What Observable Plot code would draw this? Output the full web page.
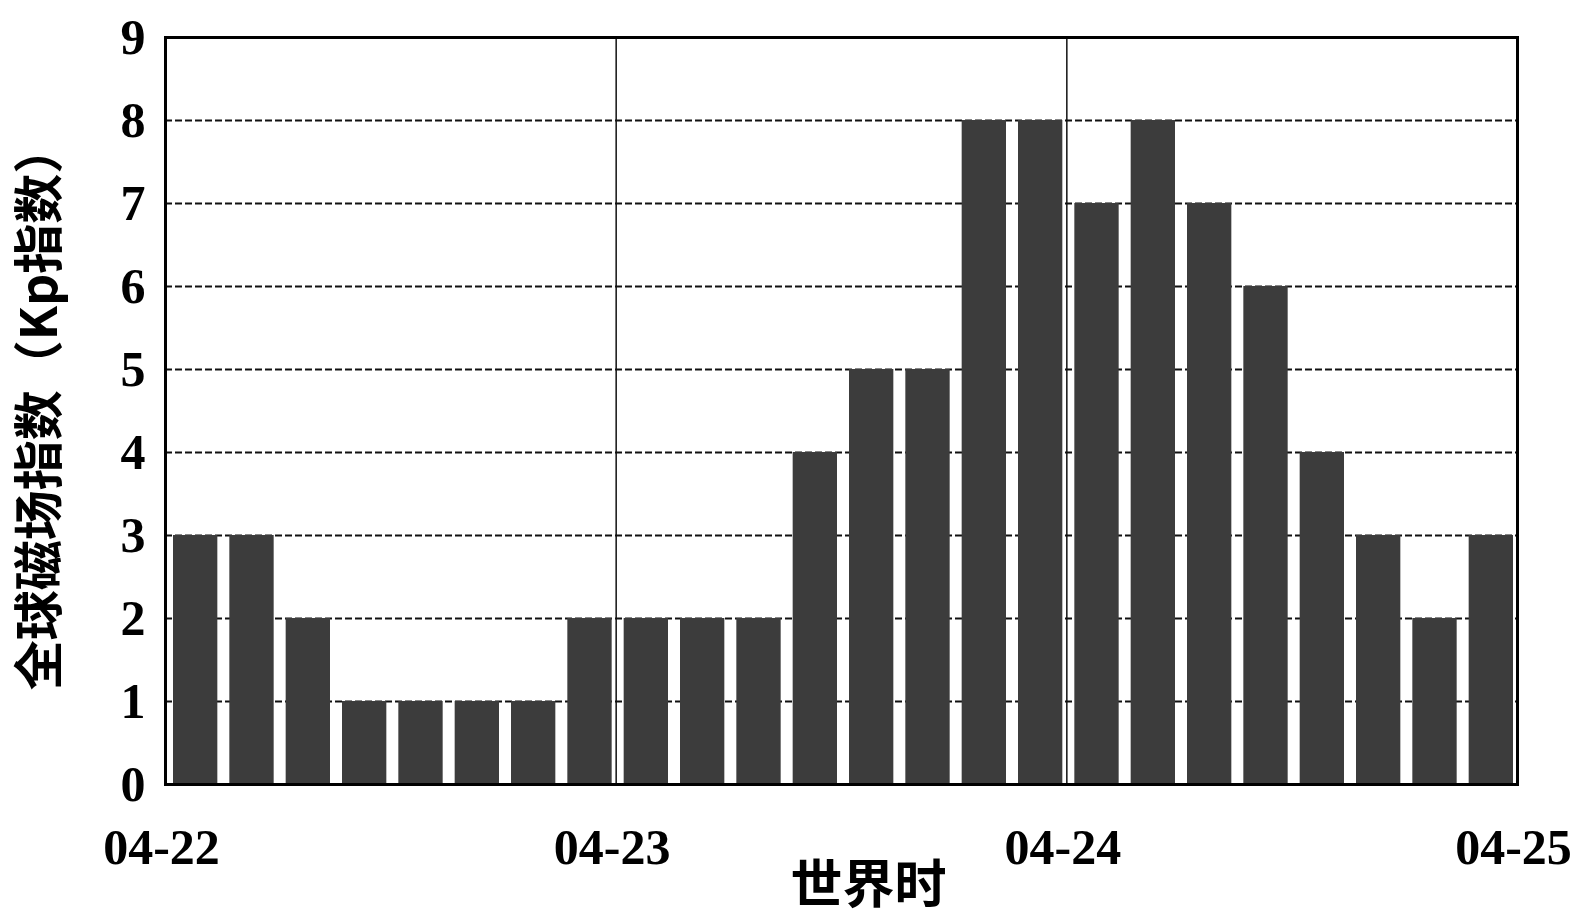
<!DOCTYPE html>
<html>
<head>
<meta charset="utf-8">
<script src="https://cdn.jsdelivr.net/npm/d3@7"></script>
<script src="https://cdn.jsdelivr.net/npm/@observablehq/plot@0.6"></script>
<style>
  html, body { margin: 0; padding: 0; background: #fff; }
</style>
</head>
<body>
<div id="chart"></div>
<script>
// Kp index per 3-hour interval, 04-22 00:00 UT to 04-25 00:00 UT
const kp = [3, 3, 2, 1, 1, 1, 1, 2,
            2, 2, 2, 4, 5, 5, 8, 8,
            7, 8, 7, 6, 4, 3, 2, 3];
const days = ["04-22", "04-23", "04-24", "04-25"];
const dayHours = [0, 24, 48, 72];
const yTicks = [0, 1, 2, 3, 4, 5, 6, 7, 8, 9];
const gridValues = [1, 2, 3, 4, 5, 6, 7, 8];
const dayLines = [24, 48];
const yLabel = "全球磁场指数（Kp指数）";
const xLabel = "世界时";

const data = kp.map((v, i) => ({start: i * 3, end: i * 3 + 3, kp: v}));

const cjk = "'Noto Sans CJK SC', 'Noto Sans', sans-serif";

const chart = Plot.plot({
  width: 1575,
  height: 922,
  marginLeft: 165,
  marginRight: 58,
  marginTop: 37,
  marginBottom: 138,
  style: {fontFamily: "'Liberation Serif', 'DejaVu Serif', serif", fontWeight: "bold", background: "#fff", color: "#000"},
  x: {domain: [0, 72]},
  y: {domain: [0, 9]},
  marks: [
    Plot.ruleY(gridValues, {stroke: "#111", strokeWidth: 2, strokeDasharray: "7,3"}),
    Plot.rectY(data, {x1: "start", x2: "end", y: "kp", fill: "#3c3c3c", insetLeft: 8, insetRight: 4}),
    Plot.ruleX(dayLines, {stroke: "#111", strokeWidth: 1.5}),
    Plot.frame({stroke: "#000", strokeWidth: 3}),
    Plot.axisY(yTicks, {tickSize: 0, tickPadding: 20, fontSize: 50, label: null,
      tickFormat: d => String(d)}),
    Plot.axisX(dayHours, {tickSize: 0, tickPadding: 44, dx: -4, fontSize: 50, label: null,
      tickFormat: d => days[dayHours.indexOf(d)]}),
    Plot.text([yLabel], {frameAnchor: "left", rotate: -90, dx: -125, dy: -4,
      textAnchor: "middle", lineAnchor: "middle",
      fontSize: 50, fontFamily: cjk, fontWeight: "bold", fill: "#000"}),
    Plot.text([xLabel], {frameAnchor: "bottom", dx: 27, dy: 102,
      textAnchor: "middle", lineAnchor: "middle",
      fontSize: 52, fontFamily: cjk, fontWeight: "bold", fill: "#000"})
  ]
});

document.getElementById("chart").appendChild(chart);
</script>
</body>
</html>
